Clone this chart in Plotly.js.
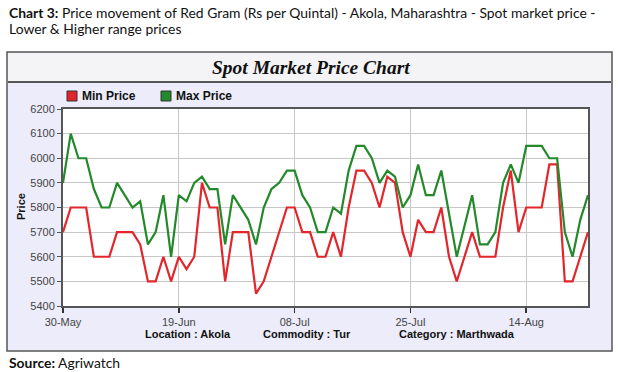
<!DOCTYPE html>
<html>
<head>
<meta charset="utf-8">
<script src="https://cdn.plot.ly/plotly-3.0.1.min.js"></script>
<style>
html,body{margin:0;padding:0;background:#fff;}
#chart{width:618px;height:372px;}
</style>
</head>
<body>
<div id="chart"></div>
<script>
// ---- data ----
var tickLabels = ["30-May", "19-Jun", "08-Jul", "25-Jul", "14-Aug"];
var tickIndex = [0, 15, 30, 45, 60];
var minPrice = [5700,5800,5800,5800,5600,5600,5600,5700,5700,5700,5650,5500,5500,5600,5500,
                5600,5550,5600,5900,5800,5800,5500,5700,5700,5700,5450,5500,5600,5700,5800,
                5800,5700,5700,5600,5600,5700,5600,5800,5950,5950,5900,5800,5925,5900,5700,
                5600,5750,5700,5700,5800,5600,5500,5600,5700,5600,5600,5600,5800,5950,5700,
                5800,5800,5800,5975,5975,5500,5500,5600,5700];
var maxPrice = [5900,6100,6000,6000,5875,5800,5800,5900,5850,5800,5825,5650,5700,5850,5600,
                5850,5825,5900,5925,5875,5875,5650,5850,5800,5750,5650,5800,5875,5900,5950,
                5950,5850,5800,5700,5700,5800,5775,5950,6050,6050,6000,5900,5950,5925,5800,
                5850,5975,5850,5850,5950,5775,5600,5725,5850,5650,5650,5700,5900,5975,5900,
                6050,6050,6050,6000,6000,5700,5600,5750,5850];
var seriesNames = ["Min Price", "Max Price"];

var idx = minPrice.map(function(_, i){ return i; });

// ---- geometry helpers (pixel -> paper) ----
var L = 63, R = 588, T = 109, B = 306, W = 618, H = 372;
function px(x){ return (x - L) / (R - L); }
function py(y){ return (B - y) / (B - T); }

var red = "#E3262B", green = "#23892A";

var traces = [
  {x: idx, y: minPrice, type: "scatter", mode: "lines", name: seriesNames[0],
   line: {color: red, width: 2.2}, hoverinfo: "skip"},
  {x: idx, y: maxPrice, type: "scatter", mode: "lines", name: seriesNames[1],
   line: {color: green, width: 2.2}, hoverinfo: "skip"}
];

var shapes = [
  {type: "rect", xref: "paper", yref: "paper", layer: "below",
   x0: px(7), x1: px(612), y0: py(351), y1: py(52),
   fillcolor: "#ECECFA", line: {color: "#555", width: 1.5}},
  {type: "rect", xref: "paper", yref: "paper", layer: "below",
   x0: px(8), x1: px(611), y0: py(82), y1: py(53),
   fillcolor: "#F4F4F7", line: {width: 0}},
  {type: "line", xref: "paper", yref: "paper", layer: "below",
   x0: px(8), x1: px(611), y0: py(82), y1: py(82),
   line: {color: "#555", width: 2}},
  {type: "rect", xref: "paper", yref: "paper", layer: "below",
   x0: 0, x1: 1, y0: 0, y1: 1, fillcolor: "#FFFFFF", line: {width: 0}},
  {type: "rect", xref: "paper", yref: "paper",
   x0: px(67), x1: px(77), y0: py(101), y1: py(91),
   fillcolor: red, line: {color: "#333", width: 1}},
  {type: "rect", xref: "paper", yref: "paper",
   x0: px(161), x1: px(171), y0: py(101), y1: py(91),
   fillcolor: green, line: {color: "#333", width: 1}}
];

var capFont = {family: "Lato, 'Open Sans', sans-serif", size: 13.9, color: "#111"};
var boldF = {family: "Liberation Sans, Arial, sans-serif", size: 11, color: "#111"};

var annotations = [
  {xref: "paper", yref: "paper", x: px(7), y: py(12), xanchor: "left", yanchor: "middle",
   showarrow: false, font: capFont,
   text: "<b>Chart 3:</b> Price movement of Red Gram (Rs per Quintal) - Akola, Maharashtra - Spot market price -"},
  {xref: "paper", yref: "paper", x: px(7), y: py(28), xanchor: "left", yanchor: "middle",
   showarrow: false, font: capFont, text: "Lower & Higher range prices"},
  {xref: "paper", yref: "paper", x: px(7), y: py(362), xanchor: "left", yanchor: "middle",
   showarrow: false, font: capFont, text: "<b>Source:</b> Agriwatch"},
  {xref: "paper", yref: "paper", x: px(311), y: py(68), xanchor: "center", yanchor: "middle",
   showarrow: false,
   font: {family: "Liberation Serif, 'Times New Roman', serif", size: 19.5, color: "#111"},
   text: "<b><i>Spot Market Price Chart</i></b>"},
  {xref: "paper", yref: "paper", x: px(80), y: py(96), xanchor: "left", yanchor: "middle",
   showarrow: false, font: {family: "Liberation Sans, Arial, sans-serif", size: 12, color: "#111"},
   text: "<b>" + seriesNames[0] + "</b>"},
  {xref: "paper", yref: "paper", x: px(174), y: py(96), xanchor: "left", yanchor: "middle",
   showarrow: false, font: {family: "Liberation Sans, Arial, sans-serif", size: 12, color: "#111"},
   text: "<b>" + seriesNames[1] + "</b>"},
  {xref: "paper", yref: "paper", x: px(21), y: py(207), xanchor: "center", yanchor: "middle",
   showarrow: false, textangle: -90, font: boldF, text: "<b>Price</b>"},
  {xref: "paper", yref: "paper", x: px(188), y: py(334), xanchor: "center", yanchor: "middle",
   showarrow: false, font: boldF, text: "<b>Location : Akola</b>"},
  {xref: "paper", yref: "paper", x: px(307), y: py(334), xanchor: "center", yanchor: "middle",
   showarrow: false, font: boldF, text: "<b>Commodity : Tur</b>"},
  {xref: "paper", yref: "paper", x: px(457), y: py(334), xanchor: "center", yanchor: "middle",
   showarrow: false, font: boldF, text: "<b>Category : Marthwada</b>"}
];

var tickFont = {family: "Liberation Sans, Arial, sans-serif", size: 11, color: "#444"};

var layout = {
  width: W, height: H,
  margin: {l: L, r: W - R, t: T, b: H - B, pad: 0},
  paper_bgcolor: "#FFFFFF",
  plot_bgcolor: "rgba(0,0,0,0)",
  showlegend: false,
  xaxis: {
    range: [0, idx.length - 1], tickmode: "array", tickvals: tickIndex, ticktext: tickLabels,
    showgrid: true, gridcolor: "#C8C8C8", gridwidth: 1, zeroline: false,
    showline: true, linecolor: "#555", linewidth: 2, mirror: true,
    ticks: "outside", ticklen: 5, tickcolor: "#333", tickwidth: 1.5,
    tickfont: tickFont, fixedrange: true
  },
  yaxis: {
    range: [5400, 6200], dtick: 100, tick0: 5400,
    showgrid: true, gridcolor: "#C8C8C8", gridwidth: 1, zeroline: false,
    showline: true, linecolor: "#555", linewidth: 2, mirror: true,
    ticks: "outside", ticklen: 4, tickcolor: "#555", tickwidth: 1,
    tickfont: tickFont, fixedrange: true
  },
  shapes: shapes,
  annotations: annotations
};

Plotly.newPlot("chart", traces, layout, {staticPlot: true, displayModeBar: false});
</script>
</body>
</html>
